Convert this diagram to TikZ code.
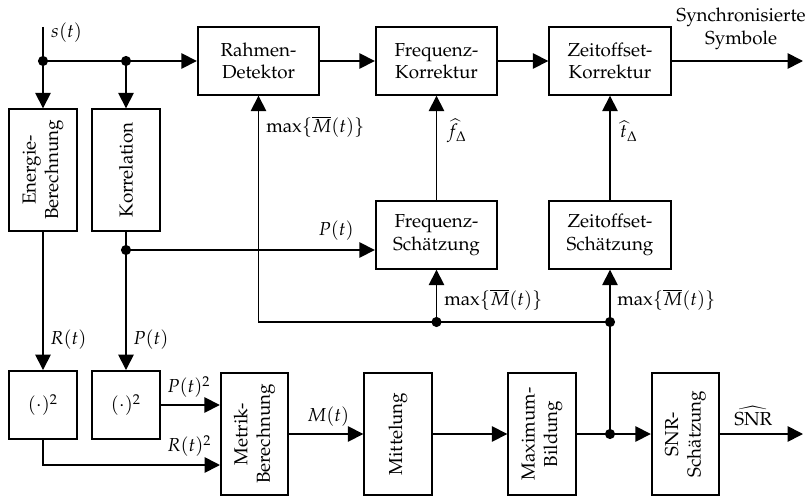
\documentclass[tikz,border=0pt]{standalone}
\usepackage[T1]{fontenc}
\usepackage{mathpazo}
\usepackage{amsmath}
\usepackage{tikz}
\usetikzlibrary{arrows.meta,calc}

\tikzset{
	blk/.style = {draw, line width=1.1pt, minimum width=2.27cm, minimum height=1.26cm, align=center, inner sep=2pt},
	vblk/.style = {blk, rotate=90},
	sqblk/.style = {blk, minimum width=1.27cm, minimum height=1.27cm},
	sig/.style = {line width=.9pt},
	flow/.style = {sig, -{Triangle[length=2.9mm,width=2.9mm]}},
	dot/.style = {fill, circle, inner sep=0pt, minimum size=1.9mm},
	lbl/.style = {inner sep=1pt}
}

\begin{document}
\begin{tikzpicture}[x=0.0187cm, y=-0.0187cm]
				\useasboundingbox (0,0) rectangle (809,496);
				% obere Kette
				\node[blk] (rahmen) at (258.5,61) {Rahmen-\\Detektor};
				\node[blk] (fkorr) at (436.5,61) {Frequenz-\\Korrektur};
				\node[blk] (zkorr) at (610,61) {Zeitoffset-\\Korrektur};
				\node[vblk] (energie) at (43,170) {Energie-\\Berechnung};
				\node[vblk] (korr) at (126,170) {Korrelation};
				\node[blk] (fschaetz) at (436.5,235) {Frequenz-\\Sch\"atzung};
				\node[blk] (zschaetz) at (610,235) {Zeitoffset-\\Sch\"atzung};
				% untere Kette
				\node[sqblk] (quadR) at (43,405) {$(\cdot)^2$};
				\node[sqblk] (quadP) at (126,405) {$(\cdot)^2$};
				\node[vblk] (metrik) at (254.5,434) {Metrik-\\Berechnung};
				\node[vblk] (mittel) at (398,434) {Mittelung};
				\node[vblk] (maxb) at (542,434) {Maximum-\\Bildung};
				\node[vblk] (snr) at (685.5,434) {SNR-\\Sch\"atzung};
				% Knoten und Enden
				\coordinate (in) at (43,27);
				\node[dot] (d1) at (43,61) {};
				\node[dot] (d2) at (126,61) {};
				\node[dot] (d3) at (126,250) {};
				\node[dot] (d4) at (436.5,322) {};
				\node[dot] (d5) at (610,322) {};
				\node[dot] (d6) at (610,434) {};
				\coordinate (out1) at (803,61);
				\coordinate (out2) at (803,434);

				\draw[sig] (in) -- (d1) -- (d2);
				\draw[flow] (d1) -- (energie);
				\draw[flow] (d2) -- (korr);
				\draw[flow] (d2) -- (rahmen);
				\draw[flow] (rahmen) -- (fkorr);
				\draw[flow] (fkorr) -- (zkorr);
				\draw[flow] (zkorr) -- (out1);
				\draw[flow] (fschaetz) -- (fkorr);
				\draw[flow] (zschaetz) -- (zkorr);
				\draw[flow] (energie) -- (quadR);
				\draw[flow] (korr) -- (quadP);
				\draw[flow] (d3) -- (d3 -| fschaetz.west);
				\draw[flow] (d5) -| (rahmen);
				\draw[flow] (d4) -- (fschaetz);
				\draw[flow] (d5) -- (zschaetz);
				\draw[sig] (d6) -- (d5);
				\draw[flow] (quadP) -- (quadP -| metrik.north);
				\draw[flow] (quadR) |- ($(metrik.center)+(-34.5,31)$);
				\draw[flow] (metrik) -- (mittel);
				\draw[flow] (mittel) -- (maxb);
				\draw[sig] (maxb) -- (d6);
				\draw[flow] (d6) -- (snr);
				\draw[flow] (snr) -- (out2);

				% Beschriftungen
				\node[lbl, anchor=west] (ls) at (49,33) {$s(t)$};
				\node[lbl, align=center] (lsym) at (741,29) {Synchronisierte\\Symbole};
				\node[lbl, anchor=west] (lm1) at (264,127) {$\max\{\overline{M}(t)\}$};
				\node[lbl, anchor=west] (lf) at (445,131) {$\widehat{f}_{\Delta}$};
				\node[lbl, anchor=west] (lt) at (618,131) {$\widehat{t}_{\Delta}$};
				\node[lbl, anchor=south east] (lp1) at (356,243) {$P(t)$};
				\node[lbl, anchor=west] (lm2) at (442,300) {$\max\{\overline{M}(t)\}$};
				\node[lbl, anchor=west] (lm3) at (615,300) {$\max\{\overline{M}(t)\}$};
				\node[lbl, anchor=west] (lr) at (48,340) {$R(t)$};
				\node[lbl, anchor=west] (lp2) at (131,340) {$P(t)$};
				\node[lbl, anchor=south west] (lp3) at (165,400) {$P(t)^2$};
				\node[lbl, anchor=south west] (lr2) at (165,459) {$R(t)^2$};
				\node[lbl, anchor=south west] (lmt) at (305,429) {$M(t)$};
				\node[lbl, anchor=south west] (lsnr) at (732,428) {$\widehat{\mathrm{SNR}}$};
			\end{tikzpicture}
\end{document}
